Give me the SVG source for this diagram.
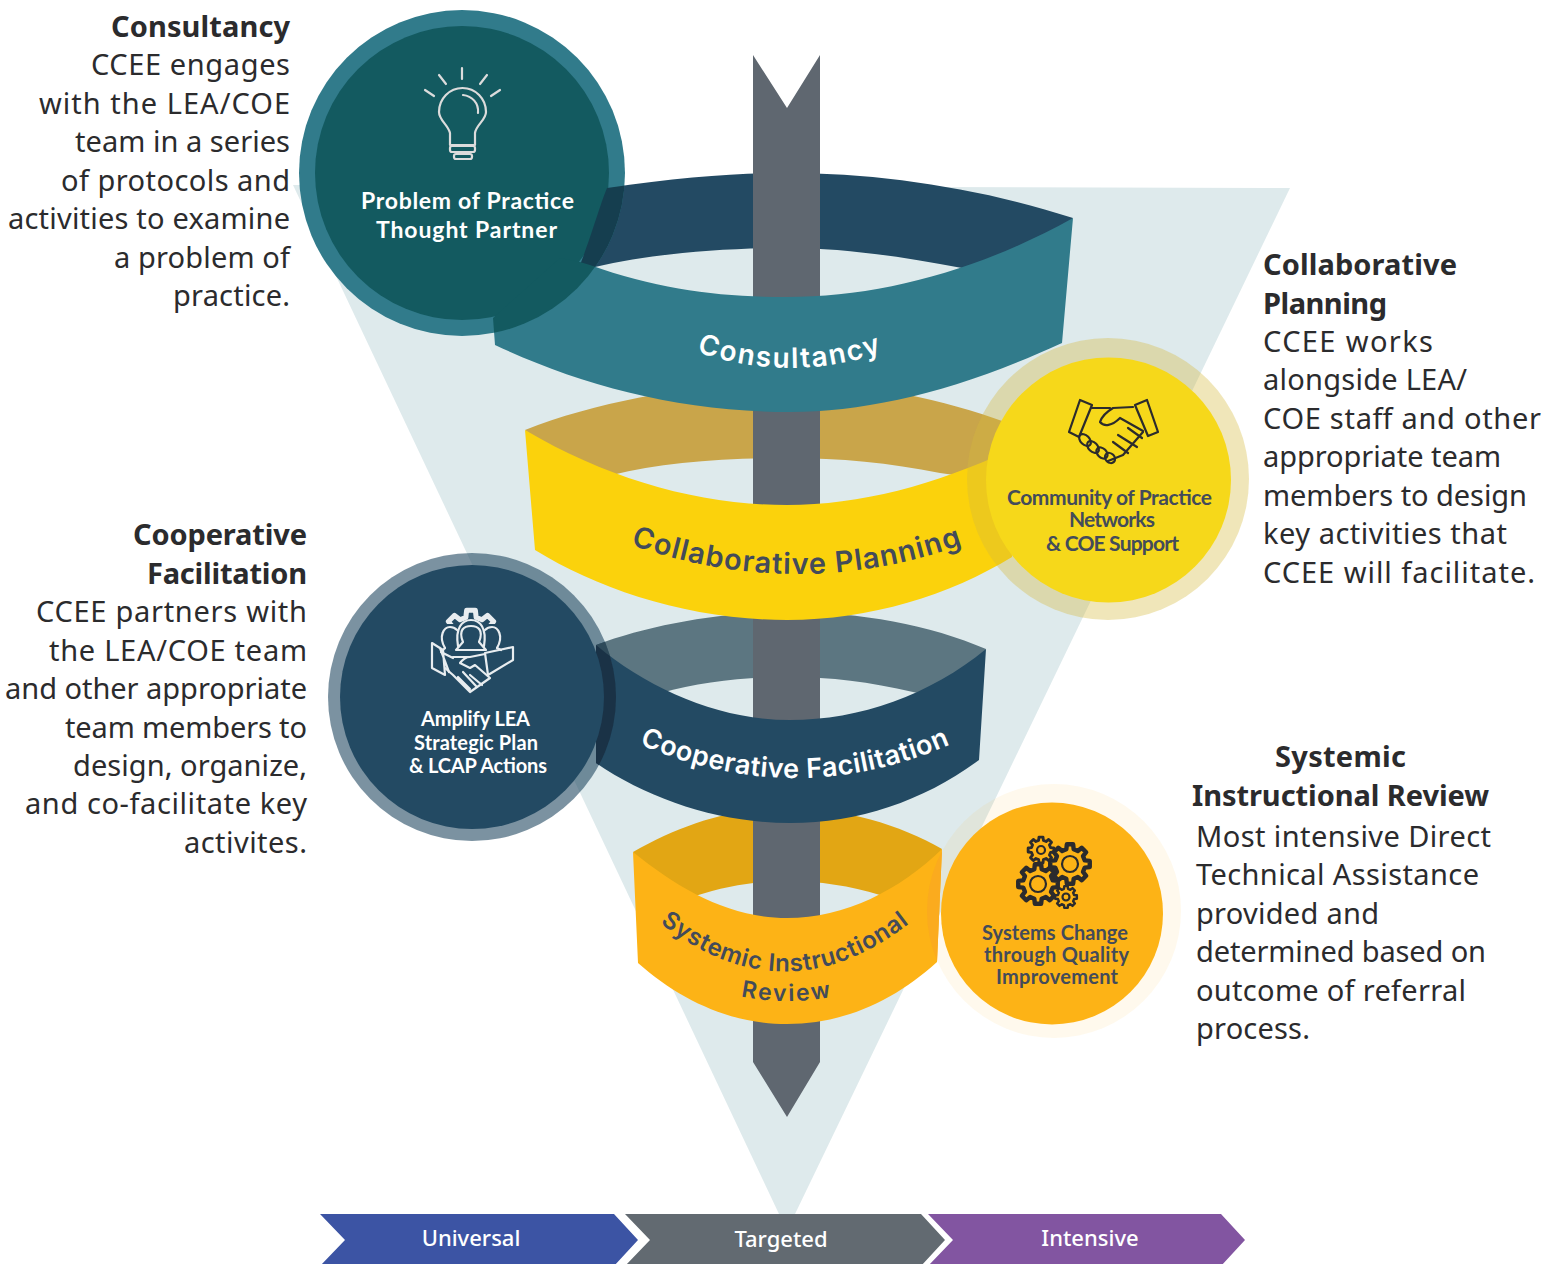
<svg xmlns="http://www.w3.org/2000/svg" width="1557" height="1264" viewBox="0 0 1557 1264">
<style>
.body{font-family:"Noto Sans","Open Sans",sans-serif;font-size:29px;fill:#2b2b2d}
.head{font-weight:700}
.end{text-anchor:end}.mid{text-anchor:middle}
.cap{font-family:Lato,"Open Sans",sans-serif;font-weight:700;text-anchor:middle}
.w{fill:#fff}.d{fill:#434b5a}
.band{font-family:Inter,"Open Sans",sans-serif;font-weight:600;text-anchor:middle}
.chev{font-family:"Noto Sans","Open Sans",sans-serif;font-size:22px;font-weight:500;fill:#fff;text-anchor:middle}
.ico{fill:none;stroke-width:2.2;stroke-linejoin:round;stroke-linecap:round}
.gear{fill:none;stroke:#2b2b2d;stroke-width:2.2;stroke-linejoin:round;vector-effect:non-scaling-stroke}
.gearw{fill:none;stroke:#e8edf0;stroke-width:1.8;stroke-linejoin:round;vector-effect:non-scaling-stroke}
</style>
<defs>
<path id="f1" d="M493 318L560 258L580 262L590 265C660 290 720 297 787 297C880 297 980 270 1073 218L1062 343C960 390 870 412 790 412C680 412 580 385 495 345Z"/>
<path id="b1" d="M580 265C590 240 600 205 607 188C680 177 740 173 787 173C880 173 980 188 1073 218L1000 290L962 268C900 256 840 248 787 248C720 248 650 254 595 267Z"/>
<path id="f2" d="M525 430C610 480 700 505 787 505C860 505 935 485 1010 450L1012 557C950 595 870 620 787 620C690 620 600 590 535 550Z"/>
<path id="b2" d="M525 430C600 400 700 383 787 383C870 383 945 400 1005 422L1010 450L990 480L940 473C890 463 840 458 787 458C720 458 660 463 612 475L590 480Z"/>
<path id="f3" d="M596 645C650 690 720 720 790 720C860 720 930 695 986 649L979 760C925 800 860 823 790 823C720 823 650 800 596 763Z"/>
<path id="b3" d="M596 645C650 625 720 612 790 612C860 612 930 625 986 649L950 700L913 692C870 682 830 677 790 677C745 677 700 682 661 693L640 700Z"/>
<path id="f4" d="M633 852C680 890 730 918 787 918C845 918 900 890 942 849L937 962C895 1000 845 1024 787 1024C730 1024 680 1000 638 963Z"/>
<path id="b4" d="M633 852C680 825 730 808 787 808C845 808 900 825 942 849L920 900L880 895C850 886 820 881 787 881C755 881 725 886 695 896L660 900Z"/>
<clipPath id="c1"><circle cx="462" cy="173" r="163"/></clipPath>
<clipPath id="c3"><circle cx="472" cy="697" r="144"/></clipPath>
<clipPath id="c4"><circle cx="1055" cy="911" r="128"/></clipPath>
<clipPath id="gt"><rect x="440" y="600" width="64" height="24"/></clipPath>
<path id="p1" d="M684 347Q790 389 896 347"/>
<path id="p2" d="M618 540Q797 608 976 540"/>
<path id="p3" d="M632 741Q795 815 958 741"/>
<path id="p4" d="M648 913Q785 1030 922 913"/>
<path id="p5" d="M726 993Q787 1009 848 993"/>
<polygon id="gr" points="7.37,-1.84 9.88,-1.56 9.88,1.56 7.37,1.84 6.51,3.91 8.09,5.88 5.88,8.09 3.91,6.51 1.84,7.37 1.56,9.88 -1.56,9.88 -1.84,7.37 -3.91,6.51 -5.88,8.09 -8.09,5.88 -6.51,3.91 -7.37,1.84 -9.88,1.56 -9.88,-1.56 -7.37,-1.84 -6.51,-3.91 -8.09,-5.88 -5.88,-8.09 -3.91,-6.51 -1.84,-7.37 -1.56,-9.88 1.56,-9.88 1.84,-7.37 3.91,-6.51 5.88,-8.09 8.09,-5.88 6.51,-3.91"/>
</defs>

<g id="funnel"><polygon points="293,185 1290,188 795,1214 779,1214" fill="#deeaec"/></g>
<g id="band-backs">
<use href="#b4" fill="#e2a614"/><use href="#b3" fill="#5c7681"/><use href="#b2" fill="#c9a54a"/><use href="#b1" fill="#234a63"/>
</g>
<g id="arrow"><polygon points="753,55 787,108 820,55 820,1062 787,1117 753,1062" fill="#5f6770"/></g>

<g id="band-systemic"><use href="#f4" fill="#fdb316"/>
<text class="band d" font-size="24" letter-spacing=".65"><textPath href="#p4" startOffset="50%">Systemic Instructional</textPath></text>
<text class="band d" font-size="23" letter-spacing="2.2"><textPath href="#p5" startOffset="50%">Review</textPath></text></g>
<g id="band-cooperative"><use href="#f3" fill="#234a63"/>
<text class="band w" font-size="27" letter-spacing=".5"><textPath href="#p3" startOffset="50%">Cooperative Facilitation</textPath></text></g>
<g id="band-collaborative"><use href="#f2" fill="#fbd20c"/>
<text class="band d" font-size="29" letter-spacing="1.1"><textPath href="#p2" startOffset="50%">Collaborative Planning</textPath></text></g>
<g id="band-consultancy"><use href="#f1" fill="#317b8b"/>
<text class="band w" font-size="28" letter-spacing="1.8"><textPath href="#p1" startOffset="50%">Consultancy</textPath></text></g>

<g id="circle-problem">
<circle cx="462" cy="173" r="163" fill="#317b8b"/><circle cx="462" cy="173" r="147" fill="#135a60"/>
<g clip-path="url(#c1)"><use href="#b1" fill="#153e4f"/><use href="#f1" fill="#135a60"/></g>
<g class="ico" stroke="#dcdcdc">
<path d="M462 68V79M439 75L446 84M487 75L480 84M425 90L434 96M500 90L491 96"/>
<path d="M450 145V133C448 125 439 120 439 112A23.5 24 0 1 1 486 112C486 120 476 125 475 133V145Z"/>
<path d="M463 95C472 96 479 103 478 113"/>
<rect x="450" y="146" width="25" height="6" rx="2"/><rect x="454" y="154" width="18" height="5" rx="2"/>
</g>
<text class="cap w" x="467.500" y="209" font-size="23" textLength="213">Problem of Practice</text>
<text class="cap w" x="466.500" y="238" font-size="23" textLength="181">Thought Partner</text>
</g>

<g id="circle-community">
<circle cx="1108" cy="479" r="141" fill="#d5ba3d" fill-opacity=".36"/><circle cx="1108.500" cy="480" r="122.500" fill="#f6d81a"/>
<g class="ico" stroke="#2b2b2d">
<path d="M1080 400L1092 405L1079 437L1069 432Z"/><path d="M1135 405L1147 400L1158 432L1148 436Z"/>
<path d="M1092 408L1110 408M1133 407L1113 408C1108 411 1102 416 1100 422C1104 427 1112 426 1120 418L1143 431"/>
<path d="M1143 432L1123 455L1108 461M1128 428L1142 438M1118 435L1137 447M1113 442L1128 453"/>
<ellipse cx="1085" cy="440" rx="7" ry="4.500" transform="rotate(45 1085 440)"/>
<ellipse cx="1093" cy="447" rx="7" ry="4.500" transform="rotate(45 1093 447)"/>
<ellipse cx="1102" cy="453" rx="6.500" ry="4.500" transform="rotate(45 1102 453)"/>
<ellipse cx="1110" cy="458" rx="5.500" ry="4.500" transform="rotate(45 1110 458)"/>
</g>
<text class="cap d" x="1109.500" y="505" font-size="21" textLength="205">Community of Practice</text>
<text class="cap d" x="1112" y="527" font-size="21" textLength="86">Networks</text>
<text class="cap d" x="1112.500" y="551" font-size="21" textLength="133">&amp; COE Support</text>
</g>

<g id="circle-amplify">
<circle cx="472" cy="697" r="144" fill="#234a63" fill-opacity=".6"/>
<g clip-path="url(#c3)"><use href="#b3" fill="#2e4a5a"/><use href="#f3" fill="#1a3246"/></g>
<circle cx="472" cy="697" r="132" fill="#234a63"/>
<g clip-path="url(#gt)"><use href="#gr" class="gearw" transform="translate(471 638) scale(2.800)"/></g>
<g class="ico" stroke="#e8edf0" stroke-width="1.800">
<path d="M458 646C455 628 462 620 471 620C480 620 487 628 484 646"/>
<path d="M463 642C458 630 464 626 471 626C478 626 484 630 479 642L486 650H456Z"/>
<path d="M445 648C438 636 444 627 450 627C453 627 455 628 457 630M497 648C504 636 498 627 492 627C489 627 487 628 485 630"/>
<path d="M445 648L441 652L453 658M497 648L501 650"/>
<path d="M432 643L443 650L445 675L432 668ZM440 648L449 672"/>
<path d="M513 647V660L488 675L485 653Z"/>
<path d="M453 657L470 657L485 654M460 663C463 659 467 657 470 657M460 663L470 668L475 665L490 678L470 692L453 675L445 668M463 672L476 686M458 677L470 689M470 675L482 685"/>
</g>
<text class="cap w" x="475.500" y="726" font-size="20" textLength="109">Amplify LEA</text>
<text class="cap w" x="476" y="750" font-size="20" textLength="124">Strategic Plan</text>
<text class="cap w" x="478" y="773" font-size="20" textLength="138">&amp; LCAP Actions</text>
</g>

<g id="circle-systems">
<circle cx="1054" cy="911" r="127" fill="#fdb316" fill-opacity=".08"/>
<g clip-path="url(#c4)"><use href="#f4" fill="#fbab1e"/></g>
<circle cx="1052" cy="913.500" r="111" fill="#fdb316"/>
<use href="#gr" class="gear" transform="translate(1041 850) scale(1.300)"/><circle cx="1041" cy="850" r="4" class="gear"/>
<use href="#gr" class="gear" transform="translate(1070 864) scale(2)"/><circle cx="1070" cy="864" r="8" class="gear"/>
<use href="#gr" class="gear" transform="translate(1038 884) scale(2)"/><circle cx="1038" cy="884" r="8" class="gear"/>
<use href="#gr" class="gear" transform="translate(1066 897) scale(1.100)"/><circle cx="1066" cy="897" r="3.500" class="gear"/>
<text class="cap d" x="1055" y="940" font-size="20" textLength="146">Systems Change</text>
<text class="cap d" x="1056.500" y="962" font-size="20" textLength="145">through Quality</text>
<text class="cap d" x="1057" y="984" font-size="20" textLength="122">Improvement</text>
</g>

<g id="text-consultancy">
<text class="body end head" x="290" y="37" textLength="179">Consultancy</text>
<text class="body end" x="290" y="75" textLength="199">CCEE engages</text>
<text class="body end" x="290" y="114" textLength="251">with the LEA/COE</text>
<text class="body end" x="290" y="152" textLength="215">team in a series</text>
<text class="body end" x="290" y="191" textLength="229">of protocols and</text>
<text class="body end" x="290" y="229" textLength="282">activities to examine</text>
<text class="body end" x="290" y="268" textLength="176">a problem of</text>
<text class="body end" x="290" y="306" textLength="117">practice.</text>
</g>
<g id="text-cooperative">
<text class="body end head" x="307" y="545" textLength="174">Cooperative</text>
<text class="body end head" x="307" y="584" textLength="160">Facilitation</text>
<text class="body end" x="307" y="622" textLength="271">CCEE partners with</text>
<text class="body end" x="307" y="661" textLength="258">the LEA/COE team</text>
<text class="body end" x="307" y="699" textLength="302">and other appropriate</text>
<text class="body end" x="307" y="738" textLength="242">team members to</text>
<text class="body end" x="307" y="776" textLength="234">design, organize,</text>
<text class="body end" x="307" y="814" textLength="282">and co-facilitate key</text>
<text class="body end" x="307" y="853" textLength="123">activites.</text>
</g>
<g id="text-collaborative">
<text class="body head" x="1263" y="275" textLength="194">Collaborative</text>
<text class="body head" x="1263" y="314" textLength="124">Planning</text>
<text class="body" x="1263" y="352" textLength="170">CCEE works</text>
<text class="body" x="1263" y="390" textLength="204">alongside LEA/</text>
<text class="body" x="1263" y="429" textLength="278">COE staff and other</text>
<text class="body" x="1263" y="467" textLength="238">appropriate team</text>
<text class="body" x="1263" y="506" textLength="264">members to design</text>
<text class="body" x="1263" y="544" textLength="244">key activities that</text>
<text class="body" x="1263" y="583" textLength="272">CCEE will facilitate.</text>
</g>
<g id="text-systemic">
<text class="body head mid" x="1340.500" y="767" textLength="131">Systemic</text>
<text class="body head mid" x="1340.500" y="806" textLength="297">Instructional Review</text>
<text class="body" x="1196" y="847" textLength="295">Most intensive Direct</text>
<text class="body" x="1196" y="885" textLength="283">Technical Assistance</text>
<text class="body" x="1196" y="924" textLength="183">provided and</text>
<text class="body" x="1196" y="962" textLength="290">determined based on</text>
<text class="body" x="1196" y="1001" textLength="270">outcome of referral</text>
<text class="body" x="1196" y="1039" textLength="114">process.</text>
</g>

<g id="chevron-universal"><path d="M320 1214H614L638 1240L614 1266H320L345 1240Z" fill="#3c54a4"/><text class="chev" x="471" y="1246">Universal</text></g>
<g id="chevron-targeted"><path d="M625 1214H921L945 1240L921 1266H625L650 1240Z" fill="#626a71"/><text class="chev" x="781" y="1247">Targeted</text></g>
<g id="chevron-intensive"><path d="M928 1214H1221L1245 1240L1221 1266H928L953 1240Z" fill="#8255a1"/><text class="chev" x="1090" y="1246">Intensive</text></g>
</svg>
